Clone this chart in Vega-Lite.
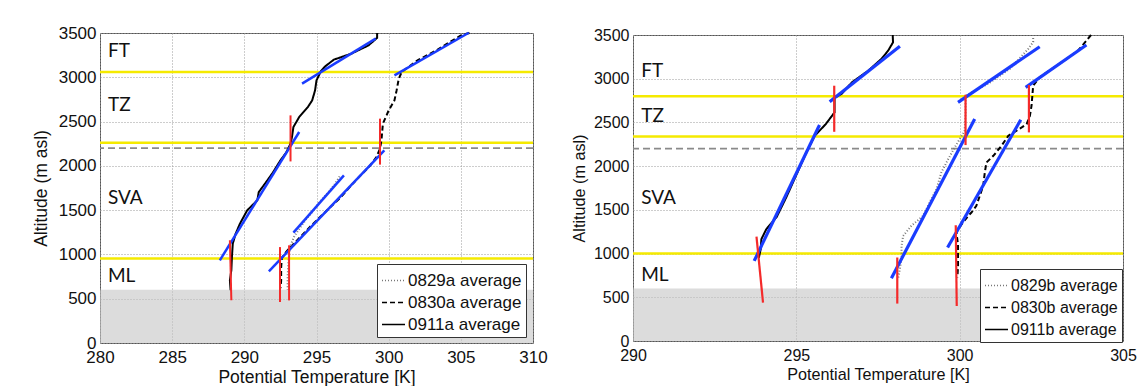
{
  "$schema": "https://vega.github.io/schema/vega-lite/v6.json",
  "background": "white",
  "padding": {"left": 31, "top": 23, "right": 0, "bottom": 0},
  "spacing": 100,
  "bounds": "flush",
  "center": true,
  "resolve": {
    "scale": {"x": "independent", "y": "independent", "color": "independent", "strokeDash": "independent"},
    "legend": {"color": "independent", "strokeDash": "independent"}
  },
  "config": {
    "view": {"stroke": "#555", "strokeWidth": 1},
    "axis": {
      "grid": true, "gridDash": [1, 2], "gridColor": "#9a9a9a", "gridWidth": 1,
      "domain": false, "ticks": false, "labelOverlap": false,
      "labelFont": "Liberation Sans", "titleFont": "Liberation Sans",
      "labelColor": "#111", "titleColor": "#111", "titleFontWeight": "normal"
    },
    "legend": {
      "strokeColor": "#333", "fillColor": "white", "padding": 4, "rowPadding": 1,
      "labelOffset": 2, "symbolType": "stroke", "symbolSize": 529, "symbolStrokeWidth": 1.5,
      "labelFont": "Liberation Sans", "labelColor": "#111", "cornerRadius": 0
    }
  },
  "hconcat": [
    {
      "width": 433,
      "height": 310,
      "encoding": {
        "x": {"field": "T", "type": "quantitative", "scale": {"domain": [280, 310], "nice": false, "zero": false},
          "axis": {"title": "Potential Temperature [K]", "values": [280, 285, 290, 295, 300, 305, 310], "format": "d", "labelFlush": false, "labelPadding": 6, "titlePadding": 3, "labelFontSize": 17, "titleFontSize": 17.5}},
        "y": {"field": "z", "type": "quantitative", "scale": {"domain": [0, 3500], "nice": false, "zero": false},
          "axis": {"title": "Altitude (m asl)", "values": [0, 500, 1000, 1500, 2000, 2500, 3000, 3500], "format": "d", "labelPadding": 4, "labelFontSize": 17, "titleFontSize": 17.5, "titleAngle": 270, "titleAlign": "center", "titleBaseline": "alphabetic", "titleX": -54, "titleY": 155}}
      },
      "layer": [
        {
          "data": {"values": [{"T": 280, "T2": 310, "z": 0, "z2": 600}]},
          "mark": {"type": "rect", "fill": "#c4c4c4", "opacity": 0.6},
          "encoding": {"x2": {"field": "T2"}, "y2": {"field": "z2"}}
        },
        {
          "data": {"values": [{"z": 3060}, {"z": 2260}, {"z": 955}]},
          "mark": {"type": "rule", "color": "#f5ea00", "strokeWidth": 2.5},
          "encoding": {"x": null}
        },
        {
          "data": {"values": [{"z": 2200}]},
          "mark": {"type": "rule", "color": "#8a8a8a", "strokeWidth": 1.8, "strokeDash": [7, 4]},
          "encoding": {"x": null}
        },
        {
          "data": {"values": [
            {"s": "0911a average", "i": 1, "T": 299.2, "z": 3500},
            {"s": "0911a average", "i": 2, "T": 299.2, "z": 3445},
            {"s": "0911a average", "i": 3, "T": 298.6, "z": 3360},
            {"s": "0911a average", "i": 4, "T": 297.4, "z": 3266},
            {"s": "0911a average", "i": 5, "T": 296.2, "z": 3199},
            {"s": "0911a average", "i": 6, "T": 295.6, "z": 3123},
            {"s": "0911a average", "i": 7, "T": 295.3, "z": 3067},
            {"s": "0911a average", "i": 8, "T": 295.0, "z": 2965},
            {"s": "0911a average", "i": 9, "T": 294.9, "z": 2852},
            {"s": "0911a average", "i": 10, "T": 294.7, "z": 2739},
            {"s": "0911a average", "i": 11, "T": 294.4, "z": 2664},
            {"s": "0911a average", "i": 12, "T": 293.8, "z": 2551},
            {"s": "0911a average", "i": 13, "T": 293.4, "z": 2438},
            {"s": "0911a average", "i": 14, "T": 293.3, "z": 2325},
            {"s": "0911a average", "i": 15, "T": 293.2, "z": 2250},
            {"s": "0911a average", "i": 16, "T": 292.9, "z": 2150},
            {"s": "0911a average", "i": 17, "T": 292.5, "z": 2062},
            {"s": "0911a average", "i": 18, "T": 292.0, "z": 1930},
            {"s": "0911a average", "i": 19, "T": 291.6, "z": 1837},
            {"s": "0911a average", "i": 20, "T": 291.0, "z": 1704},
            {"s": "0911a average", "i": 21, "T": 290.9, "z": 1611},
            {"s": "0911a average", "i": 22, "T": 290.2, "z": 1498},
            {"s": "0911a average", "i": 23, "T": 289.7, "z": 1348},
            {"s": "0911a average", "i": 24, "T": 289.4, "z": 1235},
            {"s": "0911a average", "i": 25, "T": 289.2, "z": 1122},
            {"s": "0911a average", "i": 26, "T": 289.14, "z": 971},
            {"s": "0911a average", "i": 27, "T": 289.1, "z": 821},
            {"s": "0911a average", "i": 28, "T": 289.0, "z": 708},
            {"s": "0911a average", "i": 29, "T": 289.05, "z": 595},
            {"s": "0830a average", "i": 1, "T": 305.6, "z": 3500},
            {"s": "0830a average", "i": 2, "T": 305.0, "z": 3473},
            {"s": "0830a average", "i": 3, "T": 303.3, "z": 3304},
            {"s": "0830a average", "i": 4, "T": 302.0, "z": 3191},
            {"s": "0830a average", "i": 5, "T": 301.35, "z": 3115},
            {"s": "0830a average", "i": 6, "T": 300.9, "z": 3059},
            {"s": "0830a average", "i": 7, "T": 300.7, "z": 2984},
            {"s": "0830a average", "i": 8, "T": 300.55, "z": 2852},
            {"s": "0830a average", "i": 9, "T": 300.4, "z": 2739},
            {"s": "0830a average", "i": 10, "T": 300.0, "z": 2626},
            {"s": "0830a average", "i": 11, "T": 299.6, "z": 2476},
            {"s": "0830a average", "i": 12, "T": 299.5, "z": 2287},
            {"s": "0830a average", "i": 13, "T": 299.4, "z": 2194},
            {"s": "0830a average", "i": 14, "T": 299.15, "z": 2099},
            {"s": "0830a average", "i": 15, "T": 298.7, "z": 2000},
            {"s": "0830a average", "i": 16, "T": 298.1, "z": 1900},
            {"s": "0830a average", "i": 17, "T": 297.4, "z": 1780},
            {"s": "0830a average", "i": 18, "T": 296.7, "z": 1648},
            {"s": "0830a average", "i": 19, "T": 296.0, "z": 1540},
            {"s": "0830a average", "i": 20, "T": 295.3, "z": 1430},
            {"s": "0830a average", "i": 21, "T": 294.6, "z": 1320},
            {"s": "0830a average", "i": 22, "T": 293.9, "z": 1200},
            {"s": "0830a average", "i": 23, "T": 293.3, "z": 1100},
            {"s": "0830a average", "i": 24, "T": 292.9, "z": 1030},
            {"s": "0830a average", "i": 25, "T": 292.6, "z": 960},
            {"s": "0830a average", "i": 26, "T": 292.55, "z": 850},
            {"s": "0830a average", "i": 27, "T": 292.55, "z": 700},
            {"s": "0830a average", "i": 28, "T": 292.5, "z": 620},
            {"s": "0829a average", "i": 1, "T": 296.6, "z": 1880},
            {"s": "0829a average", "i": 2, "T": 296.3, "z": 1800},
            {"s": "0829a average", "i": 3, "T": 295.8, "z": 1700},
            {"s": "0829a average", "i": 4, "T": 295.25, "z": 1600},
            {"s": "0829a average", "i": 5, "T": 294.8, "z": 1500},
            {"s": "0829a average", "i": 6, "T": 294.3, "z": 1400},
            {"s": "0829a average", "i": 7, "T": 293.85, "z": 1300},
            {"s": "0829a average", "i": 8, "T": 293.45, "z": 1200},
            {"s": "0829a average", "i": 9, "T": 293.2, "z": 1100},
            {"s": "0829a average", "i": 10, "T": 293.1, "z": 1000},
            {"s": "0829a average", "i": 11, "T": 293.05, "z": 900},
            {"s": "0829a average", "i": 12, "T": 293.0, "z": 750},
            {"s": "0829a average", "i": 13, "T": 293.0, "z": 600}
          ]},
          "mark": {"type": "line", "strokeWidth": 2},
          "encoding": {
            "order": {"field": "i", "type": "quantitative"},
            "color": {"field": "s", "type": "nominal", "scale": {"domain": ["0829a average", "0830a average", "0911a average"], "range": ["#777777", "#000000", "#000000"]},
              "legend": {"title": null, "orient": "none", "legendX": 277, "legendY": 231, "labelFontSize": 17}},
            "strokeDash": {"field": "s", "type": "nominal", "scale": {"domain": ["0829a average", "0830a average", "0911a average"], "range": [[1, 2], [5, 3], [1, 0]]},
              "legend": {"title": null, "orient": "none", "legendX": 277, "legendY": 231, "labelFontSize": 17}}
          }
        },
        {
          "data": {"values": [
            {"T": 294.0, "z": 2928, "T2": 299.1, "z2": 3436},
            {"T": 288.3, "z": 933, "T2": 293.8, "z2": 2382},
            {"T": 300.4, "z": 3021, "T2": 305.55, "z2": 3503},
            {"T": 291.7, "z": 809, "T2": 299.7, "z2": 2175},
            {"T": 293.4, "z": 1246, "T2": 296.9, "z2": 1893}
          ]},
          "mark": {"type": "rule", "color": "#1a3cff", "strokeWidth": 2.5},
          "encoding": {"x2": {"field": "T2"}, "y2": {"field": "z2"}}
        },
        {
          "data": {"values": [
            {"T": 289.0, "z": 1160, "T2": 289.1, "z2": 483},
            {"T": 292.47, "z": 1083, "T2": 292.47, "z2": 463},
            {"T": 293.1, "z": 1103, "T2": 293.1, "z2": 481},
            {"T": 293.2, "z": 2570, "T2": 293.2, "z2": 2050},
            {"T": 299.4, "z": 2533, "T2": 299.4, "z2": 2014}
          ]},
          "mark": {"type": "rule", "color": "#f42a2a", "strokeWidth": 2},
          "encoding": {"x2": {"field": "T2"}, "y2": {"field": "z2"}}
        },
        {
          "data": {"values": [
            {"T": 280.55, "z": 3293, "lab": "FT"},
            {"T": 280.55, "z": 2684, "lab": "TZ"},
            {"T": 280.55, "z": 1640, "lab": "SVA"},
            {"T": 280.55, "z": 759, "lab": "ML"}
          ]},
          "mark": {"type": "text", "align": "left", "baseline": "middle", "font": "Lato", "fontSize": 19, "color": "#111"},
          "encoding": {"text": {"field": "lab"}}
        }
      ]
    },
    {
      "width": 490,
      "height": 306,
      "encoding": {
        "x": {"field": "T", "type": "quantitative", "scale": {"domain": [290, 305], "nice": false, "zero": false},
          "axis": {"title": "Potential Temperature [K]", "values": [290, 295, 300, 305], "format": "d", "labelFlush": false, "labelPadding": 6, "titlePadding": 3, "labelFontSize": 16, "titleFontSize": 16.2}},
        "y": {"field": "z", "type": "quantitative", "scale": {"domain": [0, 3500], "nice": false, "zero": false},
          "axis": {"title": "Altitude (m asl)", "values": [0, 500, 1000, 1500, 2000, 2500, 3000, 3500], "format": "d", "labelPadding": 4, "labelFontSize": 16, "titleFontSize": 16.2, "titleAngle": 270, "titleAlign": "center", "titleBaseline": "alphabetic", "titleX": -48.5, "titleY": 153}}
      },
      "layer": [
        {
          "data": {"values": [{"T": 290, "T2": 305, "z": 0, "z2": 600}]},
          "mark": {"type": "rect", "fill": "#c4c4c4", "opacity": 0.6},
          "encoding": {"x2": {"field": "T2"}, "y2": {"field": "z2"}}
        },
        {
          "data": {"values": [{"z": 2800}, {"z": 2340}, {"z": 1000}]},
          "mark": {"type": "rule", "color": "#f5ea00", "strokeWidth": 2.5},
          "encoding": {"x": null}
        },
        {
          "data": {"values": [{"z": 2200}]},
          "mark": {"type": "rule", "color": "#8a8a8a", "strokeWidth": 1.8, "strokeDash": [7, 4]},
          "encoding": {"x": null}
        },
        {
          "data": {"values": [
            {"s": "0911b average", "i": 1, "T": 297.95, "z": 3500},
            {"s": "0911b average", "i": 2, "T": 297.96, "z": 3417},
            {"s": "0911b average", "i": 3, "T": 297.81, "z": 3320},
            {"s": "0911b average", "i": 4, "T": 297.6, "z": 3225},
            {"s": "0911b average", "i": 5, "T": 297.2, "z": 3091},
            {"s": "0911b average", "i": 6, "T": 296.7, "z": 2958},
            {"s": "0911b average", "i": 7, "T": 296.38, "z": 2825},
            {"s": "0911b average", "i": 8, "T": 296.17, "z": 2780},
            {"s": "0911b average", "i": 9, "T": 296.17, "z": 2615},
            {"s": "0911b average", "i": 10, "T": 295.9, "z": 2480},
            {"s": "0911b average", "i": 11, "T": 295.56, "z": 2347},
            {"s": "0911b average", "i": 12, "T": 295.3, "z": 2150},
            {"s": "0911b average", "i": 13, "T": 295.0, "z": 1900},
            {"s": "0911b average", "i": 14, "T": 294.7, "z": 1650},
            {"s": "0911b average", "i": 15, "T": 294.4, "z": 1420},
            {"s": "0911b average", "i": 16, "T": 294.08, "z": 1279},
            {"s": "0911b average", "i": 17, "T": 293.93, "z": 1165},
            {"s": "0911b average", "i": 18, "T": 293.91, "z": 1050},
            {"s": "0911b average", "i": 19, "T": 293.85, "z": 950},
            {"s": "0829b average", "i": 1, "T": 302.25, "z": 3500},
            {"s": "0829b average", "i": 2, "T": 302.25, "z": 3420},
            {"s": "0829b average", "i": 3, "T": 302.1, "z": 3340},
            {"s": "0829b average", "i": 4, "T": 301.53, "z": 3111},
            {"s": "0829b average", "i": 5, "T": 300.9, "z": 2950},
            {"s": "0829b average", "i": 6, "T": 300.18, "z": 2805},
            {"s": "0829b average", "i": 7, "T": 300.18, "z": 2600},
            {"s": "0829b average", "i": 8, "T": 300.15, "z": 2400},
            {"s": "0829b average", "i": 9, "T": 300.0, "z": 2309},
            {"s": "0829b average", "i": 10, "T": 299.85, "z": 2214},
            {"s": "0829b average", "i": 11, "T": 299.65, "z": 2081},
            {"s": "0829b average", "i": 12, "T": 299.44, "z": 1928},
            {"s": "0829b average", "i": 13, "T": 299.29, "z": 1737},
            {"s": "0829b average", "i": 14, "T": 299.1, "z": 1600},
            {"s": "0829b average", "i": 15, "T": 298.88, "z": 1431},
            {"s": "0829b average", "i": 16, "T": 298.52, "z": 1317},
            {"s": "0829b average", "i": 17, "T": 298.27, "z": 1202},
            {"s": "0829b average", "i": 18, "T": 298.22, "z": 1088},
            {"s": "0829b average", "i": 19, "T": 298.22, "z": 955},
            {"s": "0829b average", "i": 20, "T": 298.17, "z": 821},
            {"s": "0829b average", "i": 21, "T": 298.12, "z": 726},
            {"s": "0830b average", "i": 1, "T": 304.02, "z": 3500},
            {"s": "0830b average", "i": 2, "T": 303.88, "z": 3435},
            {"s": "0830b average", "i": 3, "T": 303.62, "z": 3320},
            {"s": "0830b average", "i": 4, "T": 303.17, "z": 3200},
            {"s": "0830b average", "i": 5, "T": 302.45, "z": 3016},
            {"s": "0830b average", "i": 6, "T": 302.25, "z": 2920},
            {"s": "0830b average", "i": 7, "T": 302.2, "z": 2691},
            {"s": "0830b average", "i": 8, "T": 302.15, "z": 2576},
            {"s": "0830b average", "i": 9, "T": 302.05, "z": 2481},
            {"s": "0830b average", "i": 10, "T": 301.9, "z": 2443},
            {"s": "0830b average", "i": 11, "T": 301.49, "z": 2347},
            {"s": "0830b average", "i": 12, "T": 301.28, "z": 2233},
            {"s": "0830b average", "i": 13, "T": 301.03, "z": 2118},
            {"s": "0830b average", "i": 14, "T": 300.82, "z": 2042},
            {"s": "0830b average", "i": 15, "T": 300.77, "z": 1928},
            {"s": "0830b average", "i": 16, "T": 300.72, "z": 1775},
            {"s": "0830b average", "i": 17, "T": 300.51, "z": 1546},
            {"s": "0830b average", "i": 18, "T": 300.36, "z": 1470},
            {"s": "0830b average", "i": 19, "T": 300.26, "z": 1431},
            {"s": "0830b average", "i": 20, "T": 300.05, "z": 1330},
            {"s": "0830b average", "i": 21, "T": 299.9, "z": 1241},
            {"s": "0830b average", "i": 22, "T": 299.95, "z": 1100},
            {"s": "0830b average", "i": 23, "T": 299.95, "z": 973},
            {"s": "0830b average", "i": 24, "T": 299.95, "z": 859},
            {"s": "0830b average", "i": 25, "T": 299.93, "z": 726}
          ]},
          "mark": {"type": "line", "strokeWidth": 2},
          "encoding": {
            "order": {"field": "i", "type": "quantitative"},
            "color": {"field": "s", "type": "nominal", "scale": {"domain": ["0829b average", "0830b average", "0911b average"], "range": ["#777777", "#000000", "#000000"]},
              "legend": {"title": null, "orient": "none", "legendX": 347, "legendY": 234, "labelFontSize": 16}},
            "strokeDash": {"field": "s", "type": "nominal", "scale": {"domain": ["0829b average", "0830b average", "0911b average"], "range": [[1, 2], [5, 3], [1, 0]]},
              "legend": {"title": null, "orient": "none", "legendX": 347, "legendY": 234, "labelFontSize": 16}}
          }
        },
        {
          "data": {"values": [
            {"T": 296.02, "z": 2737, "T2": 298.17, "z2": 3371},
            {"T": 293.71, "z": 916, "T2": 295.71, "z2": 2470},
            {"T": 299.95, "z": 2730, "T2": 302.45, "z2": 3366},
            {"T": 302.02, "z": 2901, "T2": 303.88, "z2": 3386},
            {"T": 297.91, "z": 718, "T2": 300.46, "z2": 2538},
            {"T": 299.63, "z": 1069, "T2": 301.87, "z2": 2530}
          ]},
          "mark": {"type": "rule", "color": "#1a3cff", "strokeWidth": 3.2},
          "encoding": {"x2": {"field": "T2"}, "y2": {"field": "z2"}}
        },
        {
          "data": {"values": [
            {"T": 293.78, "z": 1195, "T2": 293.98, "z2": 440},
            {"T": 296.16, "z": 2920, "T2": 296.16, "z2": 2393},
            {"T": 298.09, "z": 955, "T2": 298.09, "z2": 428},
            {"T": 299.88, "z": 1325, "T2": 299.91, "z2": 401},
            {"T": 300.18, "z": 2817, "T2": 300.18, "z2": 2241},
            {"T": 302.12, "z": 2928, "T2": 302.12, "z2": 2386}
          ]},
          "mark": {"type": "rule", "color": "#f42a2a", "strokeWidth": 2.2},
          "encoding": {"x2": {"field": "T2"}, "y2": {"field": "z2"}}
        },
        {
          "data": {"values": [
            {"T": 290.25, "z": 3088, "lab": "FT"},
            {"T": 290.25, "z": 2573, "lab": "TZ"},
            {"T": 290.25, "z": 1630, "lab": "SVA"},
            {"T": 290.25, "z": 752, "lab": "ML"}
          ]},
          "mark": {"type": "text", "align": "left", "baseline": "middle", "font": "Lato", "fontSize": 19, "color": "#111"},
          "encoding": {"text": {"field": "lab"}}
        }
      ]
    }
  ]
}
